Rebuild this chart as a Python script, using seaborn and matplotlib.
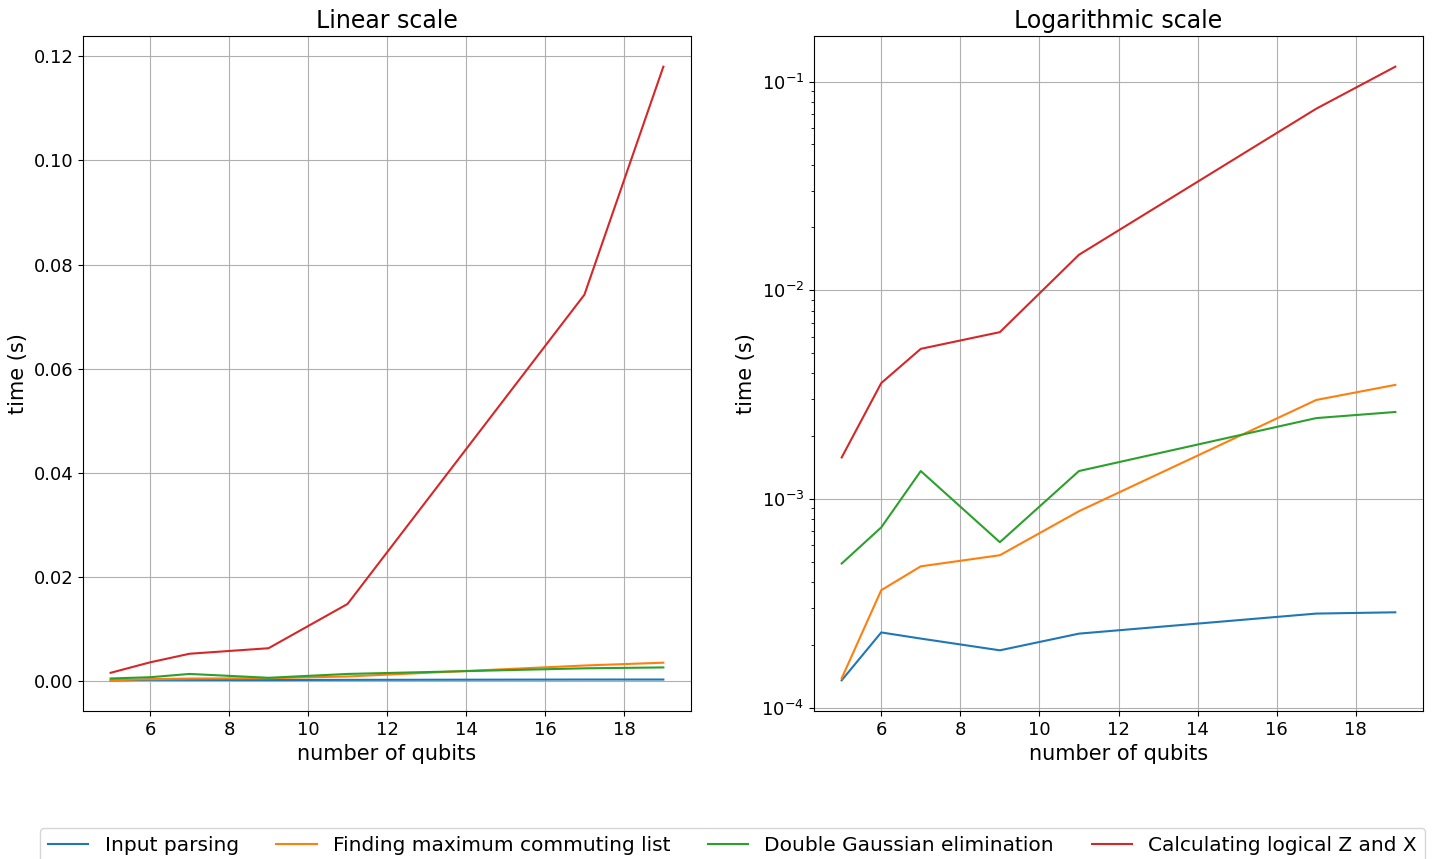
import matplotlib
matplotlib.use("Agg")
import matplotlib.pyplot as plt
import seaborn as sns
import pandas as pd

qubits = [5, 6, 7, 9, 11, 17, 19]
input_parsing = [0.000135, 0.000229, 0.000214, 0.000188, 0.000226, 0.000282, 0.000286]
max_commuting = [0.000138, 0.000365, 0.000475, 0.000537, 0.000873, 0.00298, 0.00352]
double_gauss = [0.00049, 0.00073, 0.00136, 0.00062, 0.00136, 0.00244, 0.00261]
logical_zx = [0.00158, 0.00359, 0.00524, 0.0063, 0.0148, 0.0742, 0.118]

labels = ["Input parsing", "Finding maximum commuting list",
          "Double Gaussian elimination", "Calculating logical Z and X"]
series = [input_parsing, max_commuting, double_gauss, logical_zx]

rows = []
for lab, vals in zip(labels, series):
    for q, v in zip(qubits, vals):
        rows.append({"qubits": q, "time": v, "step": lab})
df = pd.DataFrame(rows)

palette = ["#1f77b4", "#ff7f0e", "#2ca02c", "#d62728"]

fig = plt.figure(figsize=(14.38, 8.59), dpi=100)
ax1 = fig.add_axes([83/1438, 1-711/859, 608/1438, 675/859])
ax2 = fig.add_axes([814/1438, 1-711/859, 609/1438, 675/859])

for ax, title in [(ax1, "Linear scale"), (ax2, "Logarithmic scale")]:
    sns.lineplot(data=df, x="qubits", y="time", hue="step", palette=palette,
                 ax=ax, legend=False, linewidth=1.5)
    ax.set_title(title, fontsize=17)
    ax.set_xlabel("number of qubits", fontsize=15)
    ax.set_ylabel("time (s)", fontsize=15)
    ax.grid(True, color="#b0b0b0", linewidth=0.8)
    ax.tick_params(labelsize=13)
    ax.set_xticks([6, 8, 10, 12, 14, 16, 18])

ax2.set_yscale("log")

handles = [plt.Line2D([], [], color=c, linewidth=1.5) for c in palette]
fig.legend(handles, labels, loc="upper left", ncol=4, mode="expand",
           bbox_to_anchor=(30/1438, 1-818/859, 1405/1438, 0), fontsize=14.5,
           frameon=True)

fig.savefig("out.png", dpi=100)
